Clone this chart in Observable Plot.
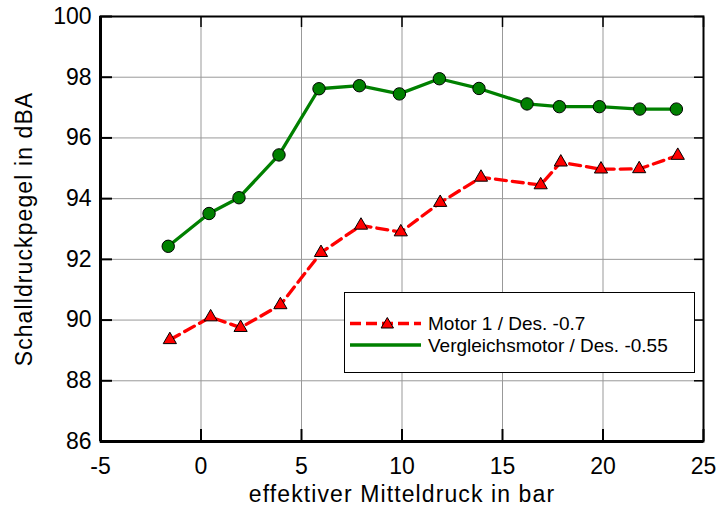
<!DOCTYPE html>
<html>
<head>
<meta charset="utf-8">
<script src="https://cdn.jsdelivr.net/npm/d3@7"></script>
<script src="https://cdn.jsdelivr.net/npm/@observablehq/plot@0.6"></script>
<style>
  html, body { margin: 0; padding: 0; background: #fff; }
  #wrap { position: relative; width: 718px; height: 506px; font-family: "Liberation Sans", Arial, sans-serif; }
  #legend { position: absolute; left: 344px; top: 292px; width: 349px; height: 79px; border: 1px solid #000; background: #fff; }
  text[aria-label="axis-title"], g[aria-label="axis-title"] text { letter-spacing: 1.1px; }
</style>
</head>
<body>
<div id="wrap"></div>
<script>
// ---- data ----
const motor1X = [-1.55, 0.48, 1.97, 3.95, 5.97, 7.96, 9.94, 11.9, 13.93, 16.9, 17.9, 19.9, 21.8, 23.72];
const motor1Y = [89.35, 90.1, 89.75, 90.5, 92.22, 93.12, 92.9, 93.87, 94.7, 94.45, 95.2, 94.97, 94.98, 95.42];
const refX = [-1.63, 0.4, 1.89, 3.88, 5.87, 7.88, 9.87, 11.86, 13.83, 16.22, 17.83, 19.82, 21.83, 23.65];
const refY = [92.43, 93.51, 94.03, 95.44, 97.62, 97.72, 97.45, 97.95, 97.63, 97.12, 97.03, 97.03, 96.95, 96.95];
const seriesNames = ["Motor 1 / Des. -0.7", "Vergleichsmotor / Des. -0.55"];
const xTicks = [-5, 0, 5, 10, 15, 20, 25];
const yTicks = [86, 88, 90, 92, 94, 96, 98, 100];
const xLabel = "effektiver Mitteldruck in bar";
const yLabel = "Schalldruckpegel in dBA";

const motor1 = motor1X.map((x, i) => ({x, y: motor1Y[i]}));
const ref = refX.map((x, i) => ({x, y: refY[i]}));

const RED = "#ff0000", GREEN = "#008000";
const FS = 23;
const fmt = d => String(d);
const blank = () => "";

const chart = Plot.plot({
  width: 718,
  height: 506,
  marginLeft: 100,
  marginRight: 15,
  marginTop: 16,
  marginBottom: 65,
  style: {fontFamily: "'Liberation Sans', Arial, sans-serif", fontSize: FS + "px", color: "#000", background: "#fff"},
  x: {domain: [-5, 25]},
  y: {domain: [86, 100]},
  marks: [
    Plot.gridX(xTicks, {stroke: "#999", strokeOpacity: 1, strokeWidth: 1}),
    Plot.gridY(yTicks, {stroke: "#999", strokeOpacity: 1, strokeWidth: 1}),
    Plot.frame({stroke: "#000", strokeWidth: 2}),
    Plot.axisY(yTicks, {anchor: "left", tickSize: -12, strokeWidth: 2, tickFormat: blank, label: null}),
    Plot.axisY(yTicks, {anchor: "right", tickSize: -10, strokeWidth: 1.5, tickFormat: blank, label: null}),
    Plot.axisX(xTicks, {anchor: "bottom", tickSize: -12, strokeWidth: 2, tickFormat: blank, label: null}),
    Plot.axisX(xTicks, {anchor: "top", tickSize: -10, strokeWidth: 1.5, tickFormat: blank, label: null}),
    Plot.axisY(yTicks, {anchor: "left", tickSize: 0, tickPadding: 9, fontSize: FS, tickFormat: fmt, label: null}),
    Plot.axisX(xTicks, {anchor: "bottom", tickSize: 0, tickPadding: 16, fontSize: FS, tickFormat: fmt, label: null}),
    Plot.ruleX([-5], {stroke: "#000", strokeWidth: 3}),
    Plot.ruleY([86], {stroke: "#000", strokeWidth: 3}),
    Plot.text([xLabel], {frameAnchor: "bottom", lineAnchor: "middle", textAnchor: "middle", dy: 53.5, fontSize: FS, ariaLabel: "axis-title"}),
    Plot.text([yLabel], {frameAnchor: "left", lineAnchor: "middle", textAnchor: "middle", rotate: -90, dx: -76, fontSize: FS, ariaLabel: "axis-title"}),
    Plot.line(ref, {x: "x", y: "y", stroke: GREEN, strokeWidth: 3.3}),
    Plot.line(motor1, {x: "x", y: "y", stroke: RED, strokeWidth: 3.3, strokeDasharray: "11,6"}),
    Plot.dot(ref, {x: "x", y: "y", r: 6.2, fill: GREEN, stroke: "#000", strokeWidth: 1}),
    Plot.dot(motor1, {x: "x", y: "y", symbol: "triangle", r: 4.9, fill: RED, stroke: "#000", strokeWidth: 1})
  ]
});

const wrap = document.getElementById("wrap");
wrap.appendChild(chart);
// widen the axis titles slightly, as in the reference
d3.select(chart).selectAll("text").filter(function() {
  const t = this.textContent;
  return t === xLabel || t === yLabel;
}).style("letter-spacing", "1.1px");

// legend (inside plot area, as in the reference)
const lg = document.createElement("div");
lg.id = "legend";
lg.innerHTML = `
<svg width="349" height="79" style="display:block;font-family:'Liberation Sans',Arial,sans-serif">
  <line x1="5" x2="76" y1="30.5" y2="30.5" stroke="${RED}" stroke-width="3.3" stroke-dasharray="11,5"/>
  <path d="M42.3,24.5 L48.5,35 L36.1,35 Z" fill="${RED}" stroke="#000" stroke-width="1"/>
  <line x1="5" x2="76" y1="52" y2="52" stroke="${GREEN}" stroke-width="3.3"/>
  <text x="83" y="37" font-size="19">${seriesNames[0]}</text>
  <text x="83" y="58.5" font-size="19">${seriesNames[1]}</text>
</svg>`;
wrap.appendChild(lg);
</script>
</body>
</html>
